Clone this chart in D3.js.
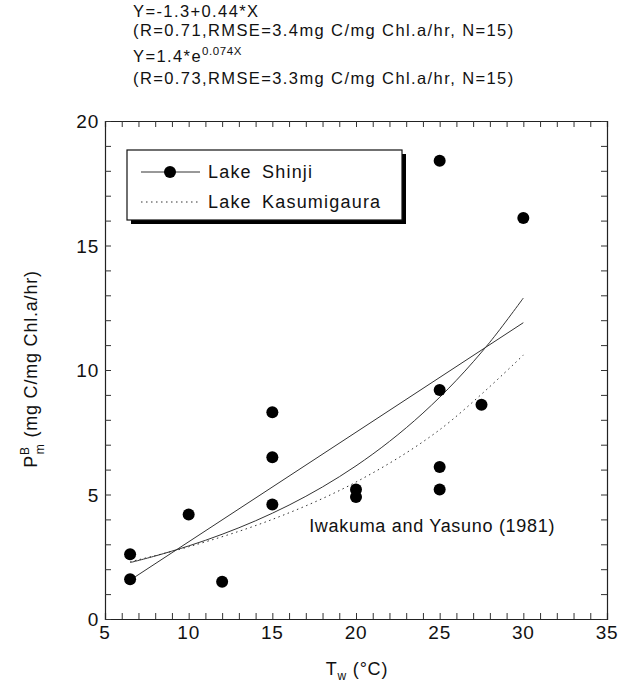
<!DOCTYPE html>
<html>
<head>
<meta charset="utf-8">
<script src="https://cdn.jsdelivr.net/npm/d3@7"></script>
<style>
  body { margin: 0; background: #fff; }
  text { font-family: "Liberation Sans", Arial, sans-serif; fill: #111; }
</style>
</head>
<body>
<div id="chart"></div>
<script>
// Lake Shinji observations (water temp, PBm)
var shinjiT = [6.5, 6.5, 10, 12, 15, 15, 15, 20, 20, 25, 25, 25, 25, 27.5, 30];
var shinjiP = [2.6, 1.6, 4.2, 1.5, 4.6, 6.5, 8.3, 5.2, 4.9, 9.2, 6.1, 5.2, 18.4, 8.6, 16.1];

// Lake Kasumigaura curve (Iwakuma and Yasuno 1981)
var kasT = [6.5, 10, 15, 20, 25, 30];
var kasP = [2.3, 2.9, 4.0, 5.5, 7.6, 10.6];

// fit coefficients printed above the chart
var linA = -1.3, linB = 0.44;
var expA = 1.4, expB = 0.074;
var fitT = [6.5, 8, 10, 12, 14, 16, 18, 20, 22, 24, 26, 28, 30];

var xTicks = [5, 10, 15, 20, 25, 30, 35];
var yTicks = [0, 5, 10, 15, 20];

var titleLines = [
  "(R=0.71,RMSE=3.4mg C/mg Chl.a/hr, N=15)",
  "(R=0.73,RMSE=3.3mg C/mg Chl.a/hr, N=15)"
];

var svgWidth = 631, svgHeight = 684;
var margin = { top: 121, right: 24, bottom: 65, left: 105 };
var width = svgWidth - margin.left - margin.right;
var height = svgHeight - margin.top - margin.bottom;

var svg = d3.select("#chart").append("svg")
  .attr("width", svgWidth)
  .attr("height", svgHeight);

svg.append("rect").attr("width", svgWidth).attr("height", svgHeight).attr("fill", "#fff");

var g = svg.append("g").attr("transform", `translate(${margin.left}, ${margin.top})`);

var x = d3.scaleLinear().domain([5, 35]).range([0, width]);
var y = d3.scaleLinear().domain([0, 20]).range([height, 0]);

// axes: ticks inward on all 4 sides, minor every 1 unit
var minorX = d3.range(5, 36, 1);
var minorY = d3.range(0, 21, 1);
var tl = 6;

g.append("g").attr("transform", `translate(0, ${height})`)
  .call(d3.axisBottom(x).tickValues(minorX).tickSize(-tl).tickFormat(""));
g.append("g")
  .call(d3.axisTop(x).tickValues(minorX).tickSize(-tl).tickFormat(""));
g.append("g")
  .call(d3.axisLeft(y).tickValues(minorY).tickSize(-tl).tickFormat(""));
g.append("g").attr("transform", `translate(${width}, 0)`)
  .call(d3.axisRight(y).tickValues(minorY).tickSize(-tl).tickFormat(""));

g.selectAll(".domain").attr("stroke", "#222").attr("stroke-width", 1.2);
g.selectAll(".tick line").attr("stroke", "#333").attr("stroke-width", 1);

// tick labels
g.selectAll(".xlab").data(xTicks).enter().append("text")
  .attr("x", d => x(d))
  .attr("y", height + 20)
  .attr("text-anchor", "middle")
  .attr("font-size", 19)
  .attr("letter-spacing", 0.8)
  .text(d => d);

g.selectAll(".ylab").data(yTicks).enter().append("text")
  .attr("x", -6)
  .attr("y", d => y(d) + 7)
  .attr("text-anchor", "end")
  .attr("font-size", 19)
  .attr("letter-spacing", 0.8)
  .text(d => d);

// fit curves
var line = d3.line().x(d => x(d[0])).y(d => y(d[1]));

g.append("path")
  .datum([[fitT[0], linA + linB * fitT[0]], [fitT[fitT.length - 1], linA + linB * fitT[fitT.length - 1]]])
  .attr("d", line)
  .attr("fill", "none").attr("stroke", "#333").attr("stroke-width", 1);

g.append("path")
  .datum(fitT.map(t => [t, expA * Math.exp(expB * t)]))
  .attr("d", line.curve(d3.curveCatmullRom))
  .attr("fill", "none").attr("stroke", "#333").attr("stroke-width", 1);

g.append("path")
  .datum(kasT.map((t, i) => [t, kasP[i]]))
  .attr("d", d3.line().x(d => x(d[0])).y(d => y(d[1])).curve(d3.curveCatmullRom))
  .attr("fill", "none").attr("stroke", "#333").attr("stroke-width", 1)
  .attr("stroke-dasharray", "1.5,3.5");

// points
g.selectAll(".pt").data(shinjiT).enter().append("circle")
  .attr("cx", d => x(d))
  .attr("cy", (d, i) => y(shinjiP[i]))
  .attr("r", 6)
  .attr("fill", "#000");

// annotation
g.append("text")
  .attr("x", x(17.2))
  .attr("y", y(3.5))
  .attr("font-size", 18)
  .attr("letter-spacing", 0.7)
  .text("Iwakuma and Yasuno (1981)");

// legend
var lg = svg.append("g").attr("transform", "translate(127, 150)");
lg.append("rect").attr("x", 4).attr("y", 4).attr("width", 275).attr("height", 70).attr("fill", "#000");
lg.append("rect").attr("x", 0).attr("y", 0).attr("width", 275).attr("height", 70)
  .attr("fill", "#fff").attr("stroke", "#111").attr("stroke-width", 1.2);

lg.append("line").attr("x1", 14).attr("x2", 73).attr("y1", 22).attr("y2", 22)
  .attr("stroke", "#333").attr("stroke-width", 1);
lg.append("circle").attr("cx", 43).attr("cy", 22).attr("r", 6).attr("fill", "#000");
lg.append("text").attr("x", 81).attr("y", 28).attr("font-size", 18)
  .attr("letter-spacing", 1.2).attr("word-spacing", 4).text("Lake Shinji");

lg.append("line").attr("x1", 14).attr("x2", 73).attr("y1", 52).attr("y2", 52)
  .attr("stroke", "#333").attr("stroke-width", 1).attr("stroke-dasharray", "1.5,3.5");
lg.append("text").attr("x", 81).attr("y", 58).attr("font-size", 18)
  .attr("letter-spacing", 1.2).attr("word-spacing", 4).text("Lake Kasumigaura");

// title lines
var tx = 133;
var t1 = svg.append("text").attr("x", tx).attr("y", 17).attr("font-size", 16.5).attr("letter-spacing", 1.4);
t1.text("Y=-1.3+0.44*X");
svg.append("text").attr("x", tx).attr("y", 36).attr("font-size", 16.5).attr("letter-spacing", 1.4)
  .text(titleLines[0]);
var t3 = svg.append("text").attr("x", tx).attr("y", 62).attr("font-size", 16.5).attr("letter-spacing", 1.4);
t3.append("tspan").text("Y=1.4*e");
t3.append("tspan").attr("dy", -7).attr("font-size", 11.5).attr("letter-spacing", 0.6).text("0.074X");
svg.append("text").attr("x", tx).attr("y", 84).attr("font-size", 16.5).attr("letter-spacing", 1.4)
  .text(titleLines[1]);

// x axis label
var xl = svg.append("text").attr("x", 357).attr("y", 675).attr("text-anchor", "middle")
  .attr("font-size", 18).attr("letter-spacing", 0.8);
xl.append("tspan").text("T");
xl.append("tspan").attr("dy", 5).attr("font-size", 12).text("w");
xl.append("tspan").attr("dy", -5).text(" (°C)");

// y axis label
var yl = svg.append("text")
  .attr("transform", "translate(37, 369) rotate(-90)")
  .attr("text-anchor", "middle")
  .attr("font-size", 18).attr("letter-spacing", 0.8);
yl.append("tspan").text("P");
yl.append("tspan").attr("dy", -8).attr("font-size", 12).text("B");
yl.append("tspan").attr("dx", -8).attr("dy", 15).attr("font-size", 12).text("m");
yl.append("tspan").attr("dy", -7).text(" (mg C/mg Chl.a/hr)");
</script>
</body>
</html>
